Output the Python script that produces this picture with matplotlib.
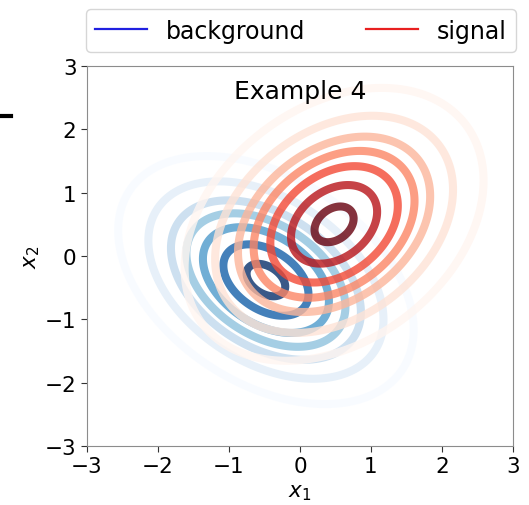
import numpy as np
import matplotlib
matplotlib.use("Agg")
import matplotlib.pyplot as plt
from matplotlib.lines import Line2D

# Class densities (bivariate normal parameters)
bkg_mean = [-0.48, -0.38]
bkg_std = [0.85, 0.8]
bkg_corr = -0.4

sig_mean = [0.48, 0.5]
sig_std = [0.86, 0.88]
sig_corr = 0.32

# Iso-proportion levels: fraction of peak density per contour
level_fracs = [0.05, 0.15, 0.29, 0.42, 0.58, 0.78, 0.95]

ticks = [-3, -2, -1, 0, 1, 2, 3]


def bivariate_normal(X, Y, mean, std, corr):
    dx = (X - mean[0]) / std[0]
    dy = (Y - mean[1]) / std[1]
    q = (dx**2 - 2 * corr * dx * dy + dy**2) / (1 - corr**2)
    norm = 2 * np.pi * std[0] * std[1] * np.sqrt(1 - corr**2)
    return np.exp(-q / 2) / norm


g = np.linspace(-3.5, 3.5, 400)
X, Y = np.meshgrid(g, g)
Z_bkg = bivariate_normal(X, Y, bkg_mean, bkg_std, bkg_corr)
Z_sig = bivariate_normal(X, Y, sig_mean, sig_std, sig_corr)

fig = plt.figure(figsize=(5.29, 5.06), dpi=100)
ax = fig.add_axes([87 / 529, 1 - 447 / 506, 426 / 529, 380 / 506])

fr = np.array(level_fracs)
ax.contour(X, Y, Z_bkg, levels=Z_bkg.max() * fr, cmap="Blues",
           linewidths=5.8, alpha=0.8)
ax.contour(X, Y, Z_sig, levels=Z_sig.max() * fr, cmap="Reds",
           linewidths=5.8, alpha=0.8)

ax.set_xlim(-3, 3)
ax.set_ylim(-3, 3)
ax.set_xticks(ticks)
ax.set_yticks(ticks)
ax.tick_params(labelsize=15.5, length=4, color="#333333")
for s in ax.spines.values():
    s.set_color("#8c8c8c")
ax.set_xlabel("$x_1$", fontsize=15.5, labelpad=4)
ax.set_ylabel("$x_2$", fontsize=15.5, labelpad=2)
ax.text(0.5, 0.965, "Example 4", transform=ax.transAxes, ha="center",
        va="top", fontsize=18)

handles = [Line2D([], [], color="#2020e0", lw=1.6, label="background"),
           Line2D([], [], color="#e82020", lw=1.6, label="signal")]
fig.legend(handles=handles, loc="lower left",
           bbox_to_anchor=(86 / 529, 1 - 53 / 506, 430 / 529, 0.05),
           mode="expand", ncol=2, fontsize=17, borderaxespad=0,
           handlelength=2.2)

fig.add_artist(Line2D([0, 11 / 529], [1 - 117 / 506] * 2, color="black",
                      lw=3, transform=fig.transFigure))

fig.savefig("out.png", dpi=100)
